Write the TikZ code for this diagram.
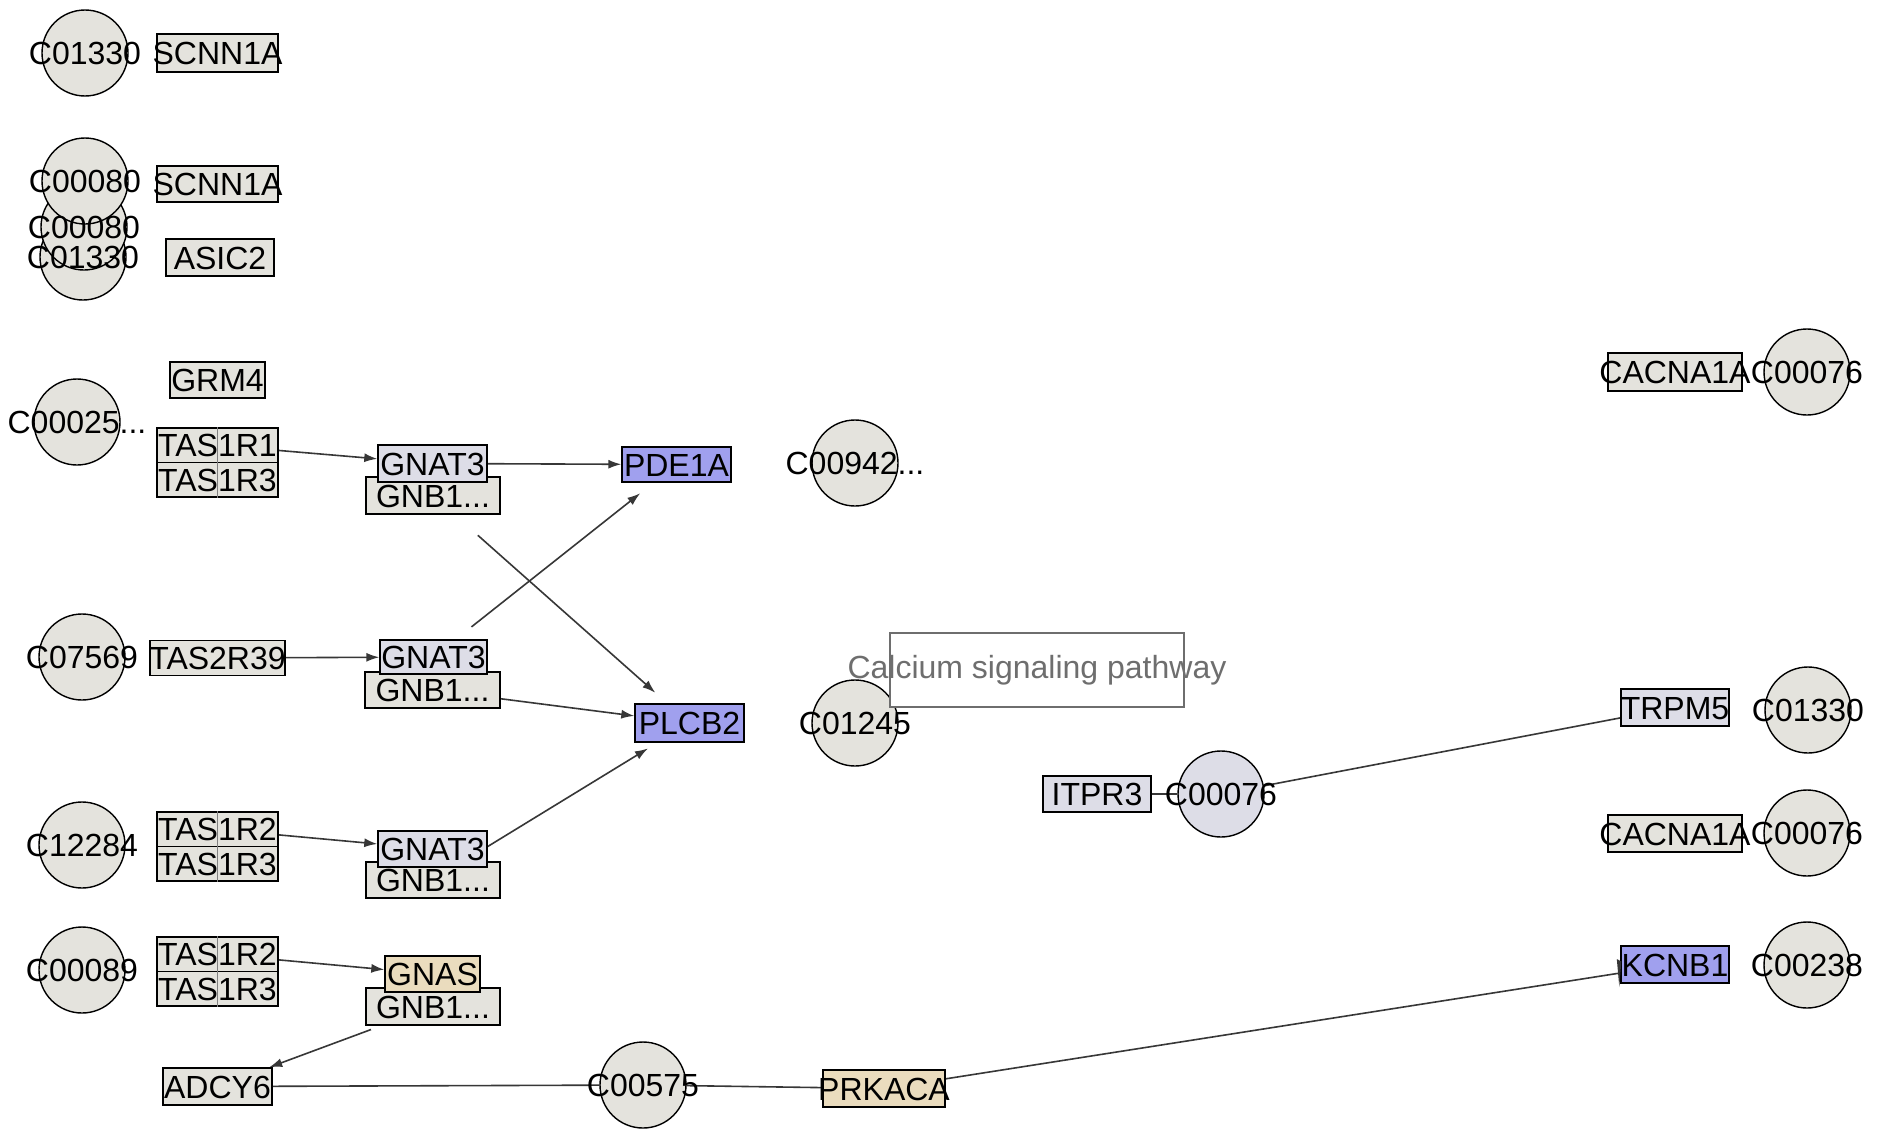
\documentclass[tikz,border=0pt]{standalone}
\usepackage{fontspec}
\setmainfont{Liberation Sans}
\usetikzlibrary{arrows.meta,backgrounds,calc}
\definecolor{ggray}{RGB}{228,227,221}
\definecolor{glav}{RGB}{221,221,231}
\definecolor{gblue}{RGB}{160,160,238}
\definecolor{gtan}{RGB}{234,220,190}
\definecolor{linec}{RGB}{55,55,55}
\definecolor{pwgray}{RGB}{110,110,110}
\tikzset{
 gene/.style={rectangle, draw=black, line width=1.4pt, inner sep=0pt, minimum height=37pt, fill=ggray},
 cpd/.style={circle, draw=black, line width=1.4pt, fill=ggray, inner sep=0pt, minimum size=86pt},
 lbl/.style={inner sep=0pt, font=\fontsize{32}{37}\selectfont, text height=23pt, text depth=0pt},
 conn/.style={draw=linec, line width=1.6pt},
 arr/.style={conn, -{Latex[length=13pt,width=9pt]}},
 divider/.style={draw=gray, line width=1pt},
}
\begin{document}
\begin{tikzpicture}[x=1pt,y=-1pt]
\useasboundingbox (0,0) rectangle (1884,1135);
% ---------- compounds ----------
\node[cpd] (c1) at (85,53) {};
\node[cpd] (c4) at (83,257) {};
\node[cpd] (c3) at (84,227) {};
\node[cpd] (c2) at (85,181) {};
\node[cpd] (c5) at (77,422) {};
\node[cpd] (c6) at (855,463) {};
\node[cpd] (c7) at (82,657) {};
\node[cpd] (c8) at (855,723) {};
\node[cpd] (c9) at (82,845) {};
\node[cpd] (c10) at (82,970) {};
\node[cpd] (c11) at (643,1085) {};
\node[cpd, fill=glav] (c12) at (1221,794) {};
\node[cpd] (c13) at (1807,372) {};
\node[cpd] (c14) at (1808,710) {};
\node[cpd] (c15) at (1807,833) {};
\node[cpd] (c16) at (1807,965) {};
% ---------- genes ----------
\node[gene, minimum width=121pt, minimum height=38pt] (scnnA) at (217.5,53) {};
\node[gene, minimum width=121pt, minimum height=36pt] (scnnB) at (217.5,184) {};
\node[gene, minimum width=108pt] (asic2) at (220,257.5) {};
\node[gene, minimum width=95pt, minimum height=36pt] (grm4) at (217.5,380) {};
\node[gene, minimum width=121pt, minimum height=34.5pt] (tasA1) at (217.5,445.25) {};
\node[gene, minimum width=121pt, minimum height=34.5pt] (tasA2) at (217.5,479.75) {};
\draw[divider] (tasA1.north) -- (tasA2.south);
\node[gene, minimum width=134pt] (gnbA) at (433,495.5) {};
\node[gene, fill=glav, minimum width=109pt] (gnatA) at (432.5,463.5) {};
\node[gene, fill=gblue, minimum width=109pt, minimum height=35pt] (pde1a) at (676.5,464.5) {};
\node[gene, minimum width=135pt, minimum height=35pt] (tas2r39) at (217.5,658) {};
\node[gene, minimum width=135pt, minimum height=36pt] (gnbB) at (432.5,690) {};
\node[gene, fill=glav, minimum width=107pt, minimum height=34pt] (gnatB) at (433.5,657) {};
\node[gene, fill=gblue, minimum width=109pt, minimum height=38pt] (plcb2) at (689.5,723) {};
\node[gene, minimum width=121pt, minimum height=34.5pt] (tasB1) at (217.5,829.25) {};
\node[gene, minimum width=121pt, minimum height=34.5pt] (tasB2) at (217.5,863.75) {};
\draw[divider] (tasB1.north) -- (tasB2.south);
\node[gene, minimum width=134pt, minimum height=36pt] (gnbC) at (433,880) {};
\node[gene, fill=glav, minimum width=109pt, minimum height=36pt] (gnatC) at (432.5,849) {};
\node[gene, minimum width=121pt, minimum height=34.5pt] (tasC1) at (217.5,954.25) {};
\node[gene, minimum width=121pt, minimum height=34.5pt] (tasC2) at (217.5,988.75) {};
\draw[divider] (tasC1.north) -- (tasC2.south);
\node[gene, minimum width=134pt] (gnbD) at (433,1006.5) {};
\node[gene, fill=gtan, minimum width=95pt, minimum height=36pt] (gnas) at (432.5,974) {};
\node[gene, minimum width=109pt] (adcy6) at (217.5,1086.5) {};
\node[gene, fill=gtan, minimum width=122pt] (prkaca) at (884,1088.5) {};
\node[gene, fill=glav, minimum width=108pt, minimum height=36pt] (itpr3) at (1097,794) {};
\node[gene, fill=glav, minimum width=108pt] (trpm5) at (1675,707.5) {};
\node[gene, minimum width=134pt, minimum height=38pt] (cacnaA) at (1675,372) {};
\node[gene, minimum width=134pt] (cacnaB) at (1675,833.5) {};
\node[gene, fill=gblue, minimum width=108pt] (kcnb1) at (1675,964.5) {};
% pathway box
\node[rectangle, draw=pwgray, line width=1.4pt, fill=white, minimum width=294pt, minimum height=74pt, inner sep=0pt] (pw) at (1037,670) {};
% ---------- connectors ----------
\begin{scope}[on background layer]
\fill[white] (0,0) rectangle (1884,1135);
\draw[arr] (tasA1) -- (gnatA);
\draw[arr] (gnatA) -- (pde1a);
\draw[arr] (tas2r39) -- (gnatB);
\draw[arr, shorten <=20pt, shorten >=17pt] (gnatB) -- (pde1a);
\draw[arr, shorten <=31pt, shorten >=16pt] (gnbA) -- (plcb2);
\draw[arr] (gnbB) -- (plcb2);
\draw[arr] (tasB1) -- (gnatC);
\draw[arr, shorten >=11pt] (gnbC) -- (plcb2);
\draw[arr] (tasC1) -- (gnas);
\draw[arr, shorten <=11pt] (gnbD) -- (adcy6);
\draw[conn] (adcy6) -- (c11);
\draw[conn] (c11) -- (prkaca);
\draw[conn] (prkaca) -- (kcnb1);
\draw[conn] (itpr3) -- (c12);
\draw[conn] (c12) -- (trpm5);
\end{scope}
\fill[linec] ($(kcnb1.west)+(-3.5,-5.5)$) -- ($(kcnb1.west)+(1,-3)$) -- ($(kcnb1.west)+(-1,22.5)$) -- cycle;
% ---------- labels ----------
\node[lbl] at (c1) {C01330};
\node[lbl] at (c2) {C00080};
\node[lbl] at (c3) {C00080};
\node[lbl] at (c4) {C01330};
\node[lbl] at (c5) {C00025...};
\node[lbl] at (c6) {C00942...};
\node[lbl] at (c7) {C07569};
\node[lbl] at (c8) {C01245};
\node[lbl] at (c9) {C12284};
\node[lbl] at (c10) {C00089};
\node[lbl] at (c11) {C00575};
\node[lbl] at (c12) {C00076};
\node[lbl] at (c13) {C00076};
\node[lbl] at (c14) {C01330};
\node[lbl] at (c15) {C00076};
\node[lbl] at (c16) {C00238};
\node[lbl] at (scnnA) {SCNN1A};
\node[lbl] at (scnnB) {SCNN1A};
\node[lbl] at (asic2) {ASIC2};
\node[lbl] at (grm4) {GRM4};
\node[lbl] at (tasA1) {TAS1R1};
\node[lbl] at (tasA2) {TAS1R3};
\node[lbl] at (gnatA) {GNAT3};
\node[lbl] at (gnbA) {GNB1...};
\node[lbl] at (pde1a) {PDE1A};
\node[lbl] at (tas2r39) {TAS2R39};
\node[lbl] at (gnatB) {GNAT3};
\node[lbl] at (gnbB) {GNB1...};
\node[lbl] at (plcb2) {PLCB2};
\node[lbl] at (tasB1) {TAS1R2};
\node[lbl] at (tasB2) {TAS1R3};
\node[lbl] at (gnatC) {GNAT3};
\node[lbl] at (gnbC) {GNB1...};
\node[lbl] at (tasC1) {TAS1R2};
\node[lbl] at (tasC2) {TAS1R3};
\node[lbl] at (gnas) {GNAS};
\node[lbl] at (gnbD) {GNB1...};
\node[lbl] at (adcy6) {ADCY6};
\node[lbl] at (prkaca) {PRKACA};
\node[lbl] at (itpr3) {ITPR3};
\node[lbl] at (trpm5) {TRPM5};
\node[lbl] at (cacnaA) {CACNA1A};
\node[lbl] at (cacnaB) {CACNA1A};
\node[lbl] at (kcnb1) {KCNB1};
\node[lbl, text=pwgray, yshift=3pt] at (pw) {Calcium signaling pathway};
\end{tikzpicture}
\end{document}
